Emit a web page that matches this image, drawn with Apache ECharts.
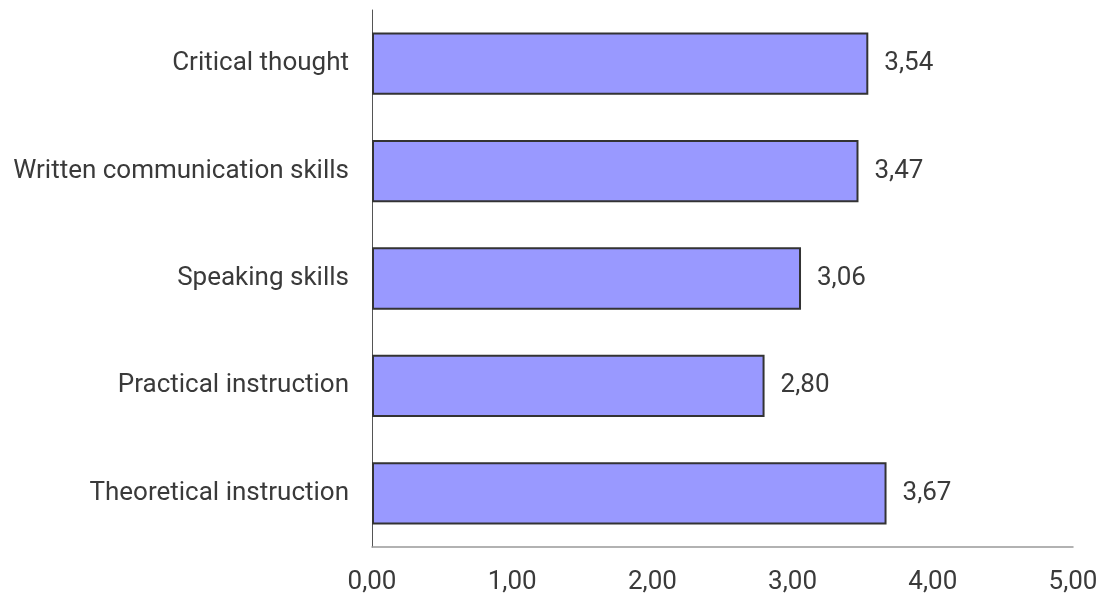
<!DOCTYPE html>
<html>
<head>
<meta charset="utf-8">
<script src="https://cdn.jsdelivr.net/npm/echarts@6/dist/echarts.min.js"></script>
<style>
  html, body { margin: 0; padding: 0; background: #fff; }
  #chart { width: 1105px; height: 595px; }
</style>
</head>
<body>
<div id="chart"></div>
<script>
// Skill categories, listed bottom to top as the category axis draws them
const categories = [
  'Theoretical instruction',
  'Practical instruction',
  'Speaking skills',
  'Written communication skills',
  'Critical thought'
];
const scores = [3.67, 2.80, 3.06, 3.47, 3.54];
const axisMin = 0;
const axisMax = 5;
const axisStep = 1;

// Comma decimal separator, two decimals
const fmt = v => Number(v).toFixed(2).replace('.', ',');

const chart = echarts.init(document.getElementById('chart'), null, { renderer: 'canvas' });
chart.setOption({
  animation: false,
  textStyle: { fontFamily: 'Roboto, "Liberation Sans", sans-serif' },
  grid: { left: 372, right: 32, top: 10, bottom: 47, containLabel: false },
  xAxis: {
    type: 'value',
    min: axisMin,
    max: axisMax,
    interval: axisStep,
    axisLine: { show: true, lineStyle: { color: '#999', width: 1.5 } },
    axisTick: { show: false },
    splitLine: { show: false },
    axisLabel: {
      formatter: fmt,
      color: '#3a3a3a',
      fontSize: 26,
      margin: 22
    }
  },
  yAxis: {
    type: 'category',
    data: categories,
    axisLine: { show: true, lineStyle: { color: '#555', width: 1 } },
    axisTick: { show: false },
    axisLabel: { color: '#3a3a3a', fontSize: 26, margin: 23, padding: [4, 0, 0, 0] }
  },
  series: [{
    type: 'bar',
    data: scores,
    barCategoryGap: '42%',
    itemStyle: { color: '#9999ff', borderColor: '#333', borderWidth: 2 },
    label: {
      show: true,
      position: 'right',
      distance: 16,
      formatter: p => fmt(p.value),
      color: '#3a3a3a',
      fontSize: 26,
      padding: [4, 0, 0, 0]
    }
  }]
});
</script>
</body>
</html>
